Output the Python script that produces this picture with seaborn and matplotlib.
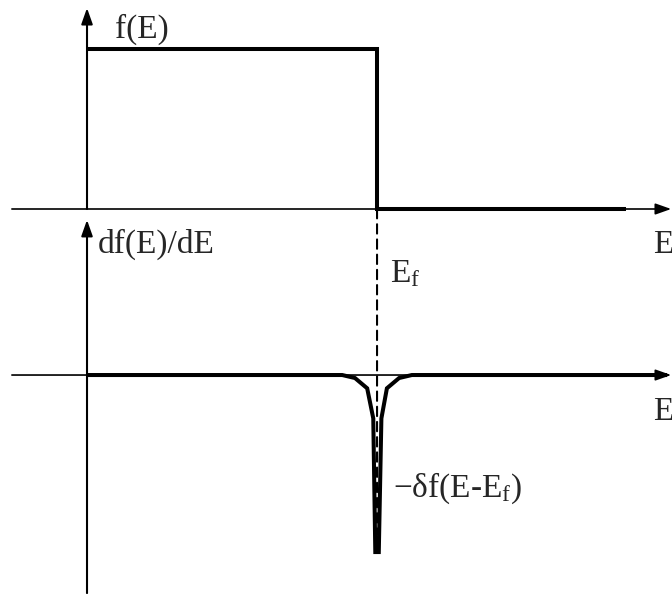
import numpy as np
import pandas as pd
import matplotlib
matplotlib.use("Agg")
import matplotlib.pyplot as plt
from matplotlib.patches import ConnectionPatch
import seaborn as sns

sns.set_style("white")
plt.rcParams["font.family"] = ["Liberation Serif", "DejaVu Serif"]
plt.rcParams["mathtext.fontset"] = "custom"
plt.rcParams["mathtext.rm"] = "Liberation Serif"
plt.rcParams["mathtext.it"] = "Liberation Serif:italic"

# Fermi level and energy range (arbitrary units, E_f = 1)
E_f = 1.0
E_end = 1.86

# Occupation f(E) at T = 0: a step at the Fermi level
step_E = [0.0, E_f, E_f, E_end]
step_f = [1.0, 1.0, 0.0, 0.0]

# Derivative df/dE: flat, with a sharp negative spike at E_f
deriv_E = [0.0, 0.88, 0.924, 0.966, 0.987, 0.994,
           1.006, 1.015, 1.034, 1.076, 1.12, 2.0]
deriv_y = [0.0, 0.0, -0.017, -0.075, -0.245, -1.0,
           -1.0, -0.245, -0.075, -0.017, 0.0, 0.0]

top_df = pd.DataFrame({"E": step_E, "f": step_f})
bot_df = pd.DataFrame({"E": deriv_E, "dfdE": deriv_y})

W, H, DPI = 672, 594, 100
fig = plt.figure(figsize=(W / DPI, H / DPI), dpi=DPI)
split = 215 / H
ax_top = fig.add_axes([0, 1 - split, 1, split])
ax_bot = fig.add_axes([0, 0, 1, 1 - split])

x_lim = (-0.3, 2.017)
ax_top.set_xlim(*x_lim)
ax_top.set_ylim(-0.0375, 1.30625)
ax_bot.set_xlim(*x_lim)
ax_bot.set_ylim(-1.237, 0.904)
for ax in (ax_top, ax_bot):
    ax.set_axis_off()

thick = 2.9
thin = 1.2
arrow = dict(arrowstyle="-|>,head_length=0.48,head_width=0.17",
             mutation_scale=20, color="black", lw=thin,
             shrinkA=0, shrinkB=0)

# coordinate axes with arrow heads
ax_top.annotate("", xy=(2.014, 0), xytext=(-0.259, 0), arrowprops=arrow)
ax_top.annotate("", xy=(0, 1.256), xytext=(0, 0), arrowprops=dict(arrow, lw=1.5))
ax_bot.annotate("", xy=(2.014, 0), xytext=(-0.259, 0), arrowprops=arrow)
ax_bot.annotate("", xy=(0, 0.876), xytext=(0, -1.232), arrowprops=dict(arrow, lw=1.5))

# curves
sns.lineplot(data=top_df, x="E", y="f", ax=ax_top, color="black",
             lw=thick, sort=False, estimator=None, legend=False)
sns.lineplot(data=bot_df, x="E", y="dfdE", ax=ax_bot, color="black",
             lw=thick, sort=False, estimator=None, legend=False)
for ax in (ax_top, ax_bot):
    for ln in ax.lines:
        ln.set_solid_joinstyle("miter")
        ln.set_solid_capstyle("butt")

# dashed marker of the Fermi level across both panels
con = ConnectionPatch(xyA=(E_f, 0), coordsA=ax_top.transData,
                      xyB=(E_f, -0.9), coordsB=ax_bot.transData,
                      color="black", lw=1.5, linestyle=(0, (4.5, 2.8)))
fig.add_artist(con)

fs = 24
ax_top.text(0.097, 1.069, "f(E)", fontsize=fs, va="baseline")
ax_bot.text(0.038, 0.689, "df(E)/dE", fontsize=fs, va="baseline")
ax_bot.text(1.952, 0.689, "E", fontsize=fs, va="baseline")
ax_bot.text(1.952, -0.254, "E", fontsize=fs, va="baseline")
ax_bot.text(1.045, 0.525, r"E$_{\mathrm{f}}$", fontsize=fs, va="baseline")
ax_bot.text(1.055, -0.689, r"−δf(E-E$_{\mathrm{f}}$)", fontsize=fs, va="baseline")

fig.savefig("out.png", dpi=DPI)
